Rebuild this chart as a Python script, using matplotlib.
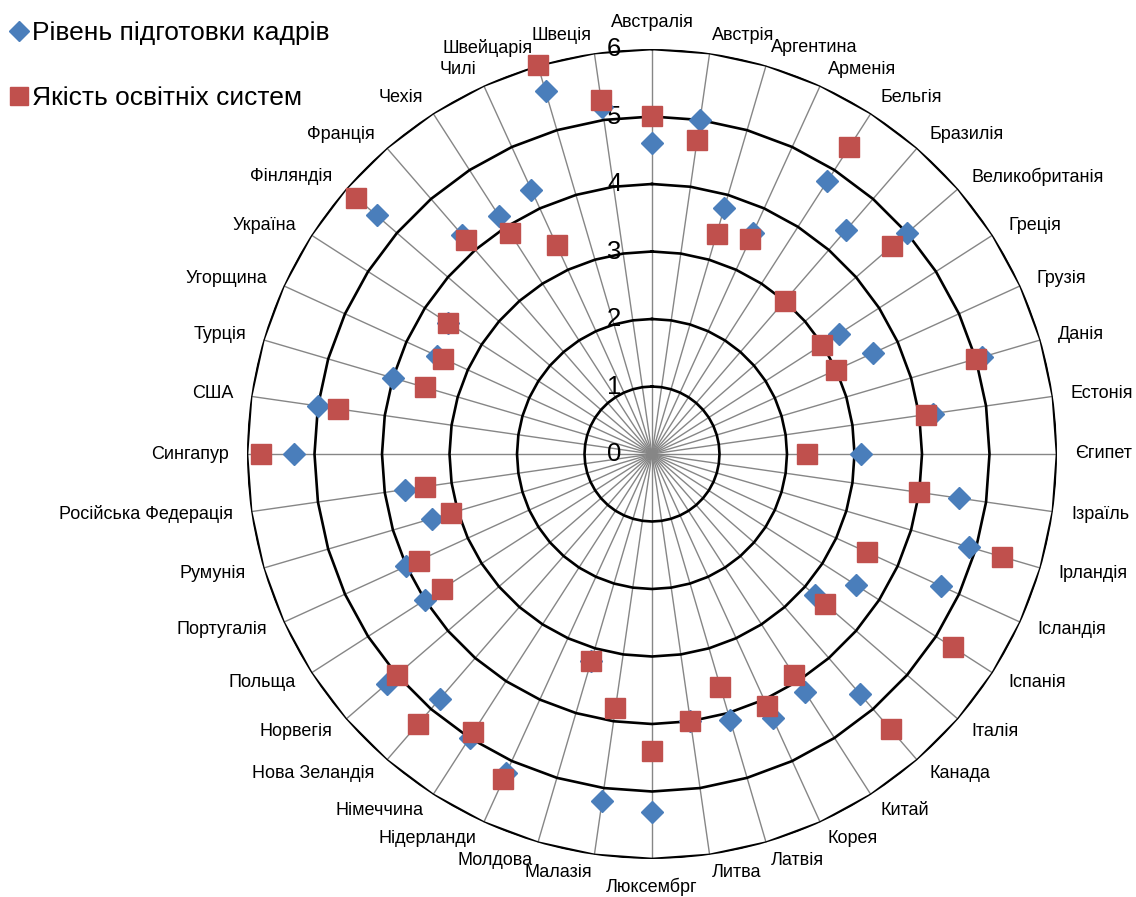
import numpy as np
import matplotlib.pyplot as plt
from matplotlib.lines import Line2D

plt.rcParams['font.family'] = ['Liberation Sans', 'DejaVu Sans']

# --- Data: countries (clockwise from top) and two indicator series ---
countries = [
    "Австралія", "Австрія", "Аргентина", "Арменія", "Бельгія", "Бразилія",
    "Великобританія", "Греція", "Грузія", "Данія", "Естонія", "Єгипет",
    "Ізраїль", "Ірландія", "Ісландія", "Іспанія", "Італія", "Канада",
    "Китай", "Корея", "Латвія", "Литва", "Люксембрг", "Малазія",
    "Молдова", "Нідерланди", "Німеччина", "Нова Зеландія", "Норвегія",
    "Польща", "Португалія", "Румунія", "Російська Федерація", "Сингапур",
    "США", "Турція", "Угорщина", "Україна", "Фінляндія", "Франція",
    "Чехія", "Чилі", "Швейцарія", "Швеція",
]
staff_training = [
    4.6, 5.0, 3.8, 3.6, 4.8, 4.4, 5.0, 3.3, 3.6, 5.1, 4.2, 3.1,
    4.6, 4.9, 4.7, 3.6, 3.2, 4.7, 4.2, 4.3, 4.1, 4.0, 5.3, 5.2,
    3.2, 5.2, 5.0, 4.8, 5.2, 4.0, 4.0, 3.4, 3.7, 5.3, 5.0, 4.0,
    3.5, 3.6, 5.4, 4.3, 4.2, 4.3, 5.6, 5.2,
]
edu_quality = [
    5.0, 4.7, 3.4, 3.5, 5.4, 3.0, 4.7, 3.0, 3.0, 5.0, 4.1, 2.3,
    4.0, 5.4, 3.5, 5.3, 3.4, 5.4, 3.9, 4.1, 3.6, 4.0, 4.4, 3.8,
    3.2, 5.3, 4.9, 5.3, 5.0, 3.7, 3.8, 3.1, 3.4, 5.8, 4.7, 3.5,
    3.4, 3.6, 5.8, 4.2, 3.9, 3.4, 6.0, 5.3,
]
series_names = ["Рівень підготовки кадрів", "Якість освітніх систем"]
r_ticks = [0, 1, 2, 3, 4, 5, 6]

blue = "#4A7EBB"
red = "#C0504D"

n = len(countries)
theta = np.arange(n) * 2 * np.pi / n
theta_closed = np.append(theta, theta[0])
r_max = r_ticks[-1]

fig = plt.figure(figsize=(11.36, 8.97), dpi=100)
ax = fig.add_axes([247 / 1136, 38 / 897, 810 / 1136, 810 / 897], projection='polar')
ax.set_theta_zero_location('N')
ax.set_theta_direction(-1)
ax.set_ylim(0, r_max)
ax.grid(False)
ax.spines['polar'].set_visible(False)
ax.set_xticks([])
ax.set_yticks([])
ax.patch.set_visible(False)

# spokes
for t in theta:
    ax.plot([t, t], [0, r_max], color="#868686", lw=1.0, zorder=1)

# polygon rings
for k in r_ticks[1:]:
    ax.plot(theta_closed, [k] * (n + 1), color="black", lw=1.9, zorder=2)

# radial value labels along the top spoke
for k in r_ticks:
    ax.annotate(str(k), xy=(0, k), xytext=(-22, 0), textcoords='offset points',
                ha='right', va='center', fontsize=18.5, zorder=3)

# series markers
ax.plot(theta, staff_training, ls='none', marker='D', ms=11, color=blue,
        markeredgecolor=blue, clip_on=False, zorder=4)
ax.plot(theta, edu_quality, ls='none', marker='s', ms=14, color=red,
        markeredgecolor=red, clip_on=False, zorder=5)

# category labels around the outer ring
for t, name in zip(theta, countries):
    s = np.sin(t)
    c = np.cos(t)
    if abs(s) < 0.01:
        ha = 'center'
        va = 'bottom' if c > 0 else 'top'
    else:
        ha = 'left' if s > 0 else 'right'
        va = 'center'
    ax.text(t, r_max * 1.045, name, ha=ha, va=va, fontsize=13)

handles = [
    Line2D([], [], ls='none', marker='D', ms=10, color=blue),
    Line2D([], [], ls='none', marker='s', ms=13, color=red),
]
fig.legend(handles, series_names, loc='upper left', bbox_to_anchor=(-0.008, 0.997),
           frameon=False, fontsize=19, handlelength=0.7, handletextpad=0.15,
           labelspacing=1.55, borderaxespad=0.3)

fig.savefig("out.png", dpi=100)
